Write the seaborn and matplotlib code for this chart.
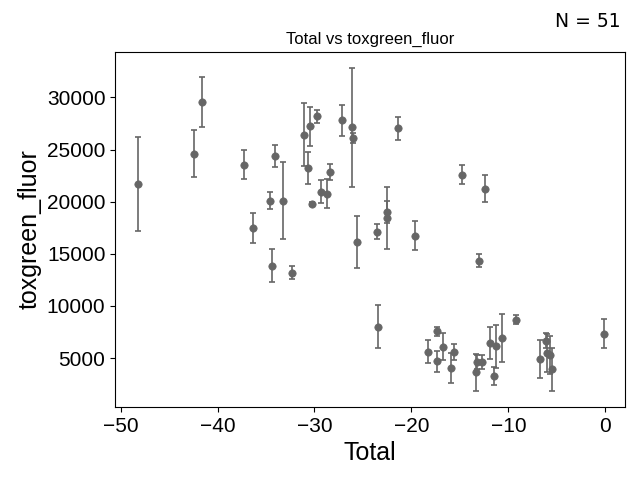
import numpy as np
import pandas as pd
import seaborn as sns
import matplotlib.pyplot as plt

# values
total = [-48.16, -42.38, -41.56, -37.22, -36.3, -34.55, -34.06, -33.2, -34.37,
         -31.03, -30.51, -30.62, -30.3, -29.7, -29.31, -28.76, -28.38, -27.21,
         -26.08, -25.98, -25.63, -32.33, -23.6, -22.57, -22.57, -19.61, -21.43,
         -14.83, -12.45, -13.07,
         -23.48, -18.27, -17.34, -17.34, -16.72, -15.9, -15.66, -13.38, -13.24,
         -12.76, -11.94, -11.53, -11.25, -10.7, -9.22, -6.71, -6.1, -6.0, -5.7,
         -5.54, -0.1]
fluor = [21730, 24620, 29520, 23560, 17500, 20100, 24360, 20100, 13880,
         26440, 27210, 23270, 19810, 28170, 20960, 20770, 22890, 27790,
         27120, 26150, 16150, 13200, 17120, 19040, 18460, 16730, 27020,
         22600, 21250, 14360,
         8030, 5600, 7560, 4680, 6100, 4060, 5620, 3625, 4615,
         4615, 6440, 3270, 6150, 6920, 8700, 4900, 6690, 5480, 5300,
         3940, 7350]
fluor_err = [4500, 2300, 2400, 1400, 1430, 800, 1050, 3700, 1600,
             3000, 1830, 1540, 200, 660, 1100, 1400, 770, 1500,
             5700, 480, 2500, 650, 740, 1060, 2960, 1400, 1090,
             920, 1300, 620,
             2050, 1100, 430, 1050, 1270, 1400, 780, 1750, 700,
             700, 1540, 850, 2050, 2300, 400, 1840, 700, 1800, 1800,
             2080, 1360]

df = pd.DataFrame({'Total': total, 'toxgreen_fluor': fluor, 'err': fluor_err})

plt.rcParams['font.family'] = ['Liberation Sans', 'DejaVu Sans']

fig, ax = plt.subplots(figsize=(6.4, 4.8), dpi=100)
color = '#666666'

ax.errorbar(df['Total'], df['toxgreen_fluor'], yerr=df['err'], fmt='none',
            ecolor=color, elinewidth=1.2, capsize=2.5, capthick=1.2, zorder=1)
sns.scatterplot(data=df, x='Total', y='toxgreen_fluor', color=color, s=28,
                edgecolor=color, linewidth=0.5, zorder=2, ax=ax)

ax.set_title('Total vs toxgreen_fluor', fontsize=12)
ax.set_xlabel('Total', fontsize=18)
ax.set_ylabel('toxgreen_fluor', fontsize=18)
ax.tick_params(labelsize=15)
ax.set_xticks([-50, -40, -30, -20, -10, 0])
ax.set_xlim(-50.55, 2.05)

fig.text(0.97, 0.935, 'N = 51', ha='right', va='bottom', fontsize=13.5,
         family='DejaVu Sans')

fig.subplots_adjust(left=0.18, right=0.977, top=0.892, bottom=0.152)
fig.savefig('out.png', dpi=100)
